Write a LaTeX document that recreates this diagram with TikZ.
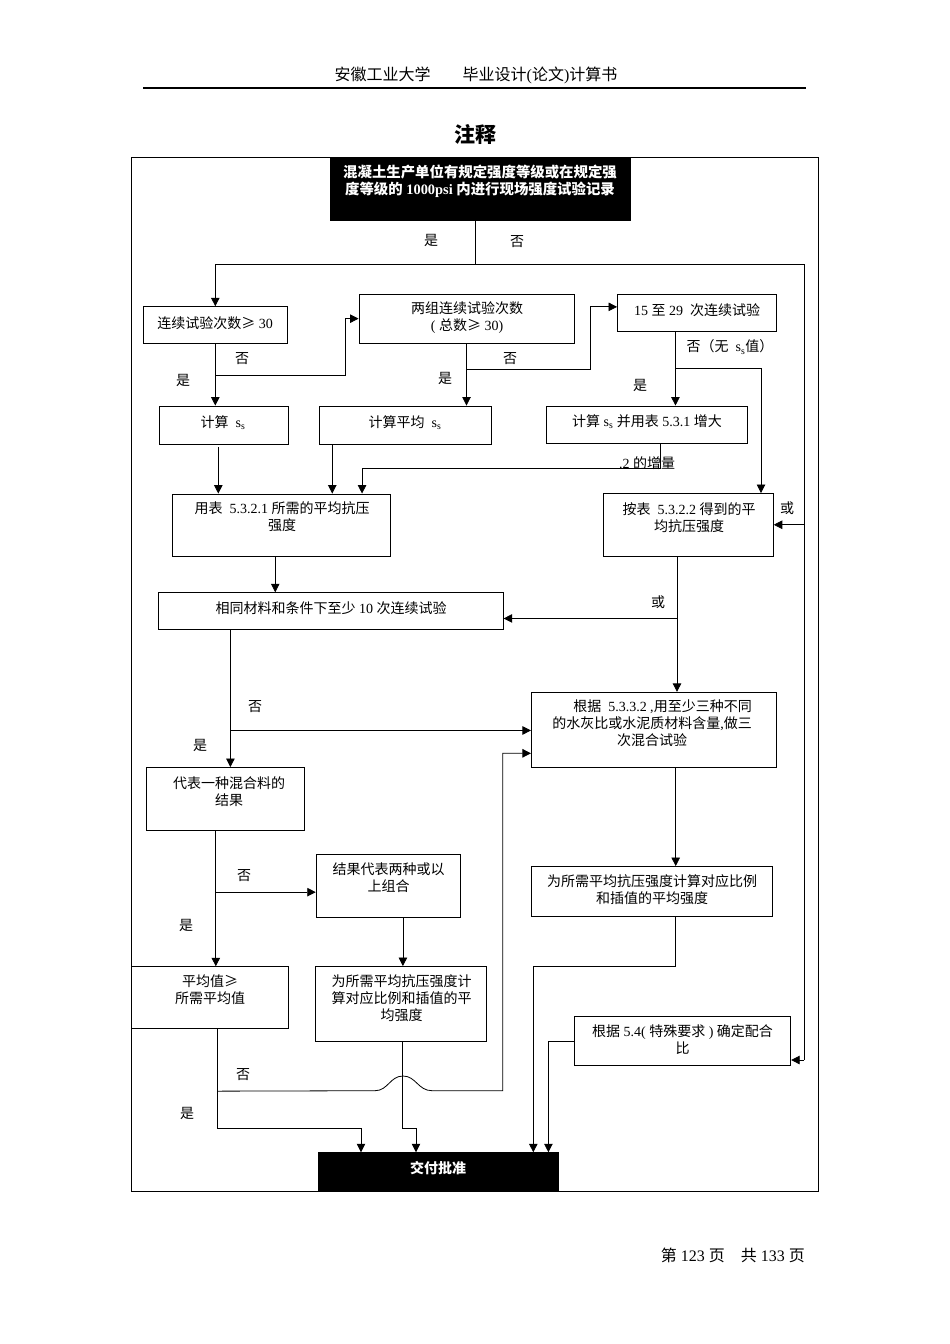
\documentclass[tikz,border=0pt]{standalone}
\usepackage{fontspec}
\setmainfont{Liberation Serif}
\newfontfamily\cjk{Noto Sans CJK SC}
\usetikzlibrary{arrows.meta}
\newcommand\zh[1]{{\cjk #1}}
\newcommand\fbx[6][]{\node[box,#1,minimum width={(#5)-(#3)},minimum height={(#6)-(#4)}] (#2) at ({((#3)+(#5))/2},{((#4)+(#6))/2}) {};}
\begin{document}
\begin{tikzpicture}[x=1pt,y=-1pt,
  box/.style={draw,line width=0.9pt,inner sep=0pt},
  txt/.style={align=center,font=\fontsize{14}{17}\selectfont,inner sep=0pt},
  lbl/.style={font=\fontsize{14}{17}\selectfont,inner sep=0pt},
  ln/.style={line width=0.8pt},
  arr/.style={ln,-{Triangle[length=8.5pt,width=8.5pt]}}]
\fill[white] (0,0) rectangle (950,1344);
\useasboundingbox (0,0) rectangle (950,1344);
% header
\node[font=\fontsize{16}{19}\selectfont,inner sep=0pt] (hd) at (476,75) {\zh{安徽工业大学}\hspace{2em}\zh{毕业设计}(\zh{论文})\zh{计算书}};
\draw[line width=1.1pt] (143,88) -- (806,88);
\node[font=\fontsize{21}{24}\selectfont\cjk\bfseries,inner sep=0pt] (title) at (475,134) {注释};
\node[font=\fontsize{16}{19}\selectfont,inner sep=0pt,anchor=east] (ft) at (805,1255) {\zh{第} 123 \zh{页}\hspace{1em}\zh{共} 133 \zh{页}};
% frame
\draw[line width=1pt] (131,157) rectangle (818,1191);
% boxes
\fbx[fill=black]{b1}{330}{157}{630}{220}
\fbx{b2}{143.3}{306.7}{287.3}{343.3}
\fbx{b3}{359}{294}{574}{343.3}
\fbx{b4}{617.5}{294}{776}{331.7}
\fbx{b5}{159.3}{406}{288.3}{444}
\fbx{b6}{319}{406}{491.5}{444}
\fbx{b7}{546}{406}{747}{443.5}
\fbx{b8}{172.7}{494}{390.6}{556}
\fbx{b9}{603.3}{493.5}{773.3}{556}
\fbx{b10}{158.6}{592.7}{503.2}{629.3}
\fbx{b11}{531.4}{692.3}{776}{767.3}
\fbx{b12}{146.3}{767.5}{304.7}{830}
\fbx{b13}{531.4}{866.5}{772}{916.5}
\fbx{b14}{316.2}{854}{460}{917}
\fbx{b15}{131.5}{966.7}{288.5}{1028.3}
\fbx{b16}{315.7}{966.5}{486.7}{1041}
\fbx{b17}{574.3}{1016}{790.7}{1065.3}
\fbx[fill=black]{b18}{318.3}{1152.7}{558.5}{1190.7}
% box texts
\node[txt,text=white,font=\fontsize{14.4}{17}\selectfont\bfseries] (t1) at (480,181.5) {\zh{混凝土生产单位有规定强度等级或在规定强}\\\zh{度等级的} 1000psi \zh{内进行现场强度试验记录}};
\node[txt] (t2) at (215,323) {\zh{连续试验次数≥} 30};
\node[txt] (t3) at (467,318) {\zh{两组连续试验次数}\\( \zh{总数≥} 30)};
\node[txt] (t4) at (697,310) {15 \zh{至} 29\ \ \zh{次连续试验}};
\node[txt] (t5) at (223,423) {\zh{计算}\ \ s\textsubscript{s}};
\node[txt] (t6) at (405,423) {\zh{计算平均}\ \ s\textsubscript{s}};
\node[txt] (t7) at (647,422) {\zh{计算} s\textsubscript{s} \zh{并用表} 5.3.1 \zh{增大}};
\node[txt] (t8) at (282,517) {\zh{用表}\ \ 5.3.2.1 \zh{所需的平均抗压}\\\zh{强度}};
\node[txt] (t9) at (689,518) {\zh{按表}\ \ 5.3.2.2 \zh{得到的平}\\\zh{均抗压强度}};
\node[txt] (t10) at (331,608) {\zh{相同材料和条件下至少} 10 \zh{次连续试验}};
\node[txt] (t11) at (652,723.5) {\hspace*{1.5em}\zh{根据}\ \ 5.3.3.2 ,\zh{用至少三种不同}\\\zh{的水灰比或水泥质材料含量},\zh{做三}\\\zh{次混合试验}};
\node[txt] (t12) at (229,791.5) {\zh{代表一种混合料的}\\\zh{结果}};
\node[txt] (t13) at (652,890) {\zh{为所需平均抗压强度计算对应比例}\\\zh{和插值的平均强度}};
\node[txt] (t14) at (388.5,878) {\zh{结果代表两种或以}\\\zh{上组合}};
\node[txt] (t15) at (210,990) {\zh{平均值≥}\\\zh{所需平均值}};
\node[txt] (t16) at (401.5,998) {\zh{为所需平均抗压强度计}\\\zh{算对应比例和插值的平}\\\zh{均强度}};
\node[txt] (t17) at (682.5,1040) {\zh{根据} 5.4( \zh{特殊要求} ) \zh{确定配合}\\\zh{比}};
\node[txt,text=white,font=\fontsize{14}{17}\selectfont\bfseries] (t18) at (438,1168) {\zh{交付批准}};
% labels
\node[lbl] (l1) at (431,240) {\zh{是}};
\node[lbl] (l2) at (517,242) {\zh{否}};
\node[lbl] (l3) at (242,359) {\zh{否}};
\node[lbl] (l4) at (183,380) {\zh{是}};
\node[lbl] (l5) at (510,359) {\zh{否}};
\node[lbl] (l6) at (445,378) {\zh{是}};
\node[lbl] (l7) at (730,347) {\zh{否（无}\ \ s\textsubscript{s}\zh{值）}};
\node[lbl] (l8) at (640,385) {\zh{是}};
\node[lbl] (l9) at (647,463) {.2 \zh{的增量}};
\node[lbl] (l10) at (787,508) {\zh{或}};
\node[lbl] (l11) at (658,602) {\zh{或}};
\node[lbl] (l12) at (255,707) {\zh{否}};
\node[lbl] (l13) at (200,745) {\zh{是}};
\node[lbl] (l14) at (244,876) {\zh{否}};
\node[lbl] (l15) at (186,925) {\zh{是}};
\node[lbl] (l16) at (243,1075) {\zh{否}};
\node[lbl] (l17) at (187,1113) {\zh{是}};
% connectors
\draw[ln] ([xshift=-5pt]b1.south) -- ++(0,43.5) coordinate (jt);
\coordinate (rt) at (804,263.5);
\coordinate (rb) at (804,1060);
\draw[arr] (jt) -| (b2.north);
\draw[ln] (jt) -- (jt -| rt) -- (rb);
\draw[arr] (rt |- b9.east) -- (b9.east);
\draw[arr] (rb) -- (rb -| b17.east);
% row 2
\draw[arr] (b2.south) -- (b2.south |- b5.north);
\path (b2.south) ++(0,31.7) coordinate (n2);
\draw[arr] (n2) -- ++(130,0) |- (b3.west);
\draw[arr] (b3.south) -- (b3.south |- b6.north);
\path (b3.south) ++(0,26) coordinate (n3);
\draw[arr] (n3) -- ++(123.5,0) |- ([yshift=6pt]b4.west);
\path ([xshift=-21.3pt]b4.south) coordinate (b4o);
\draw[arr] (b4o) -- (b4o |- b7.north);
\path (b4o) ++(0,36.6) coordinate (n4);
\path ([xshift=72.7pt]b9.north) coordinate (b9i);
\draw[arr] (n4) -| (b9i);
% row 3
\path ([xshift=14pt]b7.south) coordinate (b7o);
\path ([xshift=80.4pt]b8.north) coordinate (b8i);
\draw[arr] (b7o) -- ++(0,24.8) -| (b8i);
\path ([xshift=-5.5pt,yshift=-2.7pt]b5.south) coordinate (b5o);
\draw[arr] (b5o) -- (b5o |- b8.north);
\path ([xshift=-73pt]b6.south) coordinate (b6o);
\draw[arr] (b6o) -- (b6o |- b8.north);
\path ([xshift=-6.4pt]b8.south) coordinate (b8o);
\draw[arr] (b8o) -- (b8o |- b10.north);
\path ([xshift=-11.3pt]b9.south) coordinate (b9o);
\draw[arr] (b9o) -- (b9o |- b11.north);
\path (b9o) ++(0,62) coordinate (n9);
\draw[arr] (n9) -- (n9 -| b10.east);
% row 4
\path ([xshift=-100.5pt]b10.south) coordinate (b10o);
\draw[arr] (b10o) -- (b10o |- b12.north);
\path (b10o) ++(0,100.7) coordinate (n10);
\draw[arr] (n10) -- (n10 -| b11.west);
\path ([xshift=22pt]b11.south) coordinate (b11o);
\draw[arr] (b11o) -- (b11o |- b13.north);
\path ([xshift=-9.7pt]b12.south) coordinate (b12o);
\draw[arr] (b12o) -- (b12o |- b15.north);
\path (b12o) ++(0,61.7) coordinate (n12);
\draw[arr] (n12) -- (n12 -| b14.west);
\path ([xshift=14.8pt]b14.south) coordinate (b14o);
\draw[arr] (b14o) -- (b14o |- b16.north);
% row 5
\path ([xshift=7.3pt]b15.south) coordinate (b15o);
\path ([xshift=-77.4pt]b18.north) coordinate (b18a);
\draw[arr] (b15o) -- ++(0,99.4) -| (b18a);
\path (b15o) ++(0,62.4) coordinate (n15);
\draw[arr] (n15) -- (375,1090.7) .. controls (388,1090.7) and (390,1076) .. (403,1076) .. controls (416,1076) and (418,1090.7) .. (432,1090.7) -- (502.7,1090.7) |- ([yshift=-23.5pt]b11.west);
\path ([xshift=1.5pt]b16.south) coordinate (b16o);
\path ([xshift=-22.4pt]b18.north) coordinate (b18b);
\draw[arr] (b16o) -- ++(0,86.7) -| (b18b);
\path ([xshift=24pt]b13.south) coordinate (b13o);
\path ([xshift=94.9pt]b18.north) coordinate (b18c);
\draw[arr] (b13o) -- ++(0,49.5) -| (b18c);
\path ([xshift=110pt]b18.north) coordinate (b18d);
\draw[arr] ([yshift=-1pt]b17.west) -| (b18d);
\end{tikzpicture}
\end{document}
